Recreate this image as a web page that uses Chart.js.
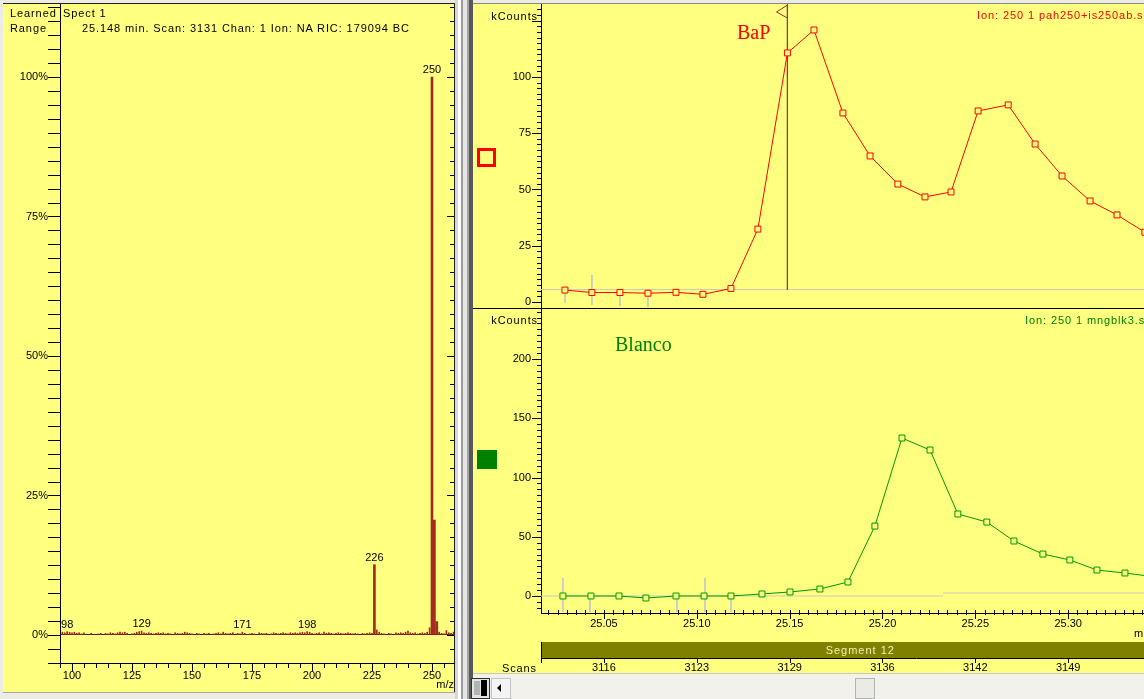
<!DOCTYPE html>
<html>
<head>
<meta charset="utf-8">
<script src="https://cdn.jsdelivr.net/npm/chart.js@4.4.1/dist/chart.umd.min.js"></script>
<style>
  body { margin: 0; width: 1144px; height: 699px; overflow: hidden; position: relative; background: #ecebe4;
         font-family: Arial, "Liberation Sans", sans-serif; font-size: 11px; }
  .abs { position: absolute; }
  .txt { position: absolute; white-space: nowrap; line-height: 12px; letter-spacing: 0.9px; color: #000; }
  .serif { position: absolute; white-space: nowrap; font-family: "Liberation Serif", "Times New Roman", serif; font-size: 20px; line-height: 20px; }
</style>
</head>
<body>
<!-- left panel -->
<div class="abs" style="left:3px;top:3px;width:451px;height:689px;background:#ffff80"></div>
<div class="abs" style="left:3px;top:3px;width:453px;height:1px;background:#222"></div>
<div class="abs" style="left:454px;top:3px;width:1px;height:689px;background:#222"></div>
<div class="abs" style="left:3px;top:692px;width:453px;height:1px;background:#a8a8a8"></div>
<canvas id="spectrum" class="abs" style="left:3px;top:4px" width="453" height="688"></canvas>
<div class="txt" style="left:10px;top:7px">Learned</div>
<div class="txt" style="left:10px;top:22px">Range</div>
<div class="txt" style="left:63px;top:7px">Spect 1</div>
<div class="txt" style="left:82px;top:22px">25.148 min. Scan: 3131 Chan: 1 Ion: NA RIC: 179094 BC</div>

<!-- splitter -->
<div class="abs" style="left:455px;top:0;width:3px;height:699px;background:#d6d6d6"></div>
<div class="abs" style="left:458px;top:0;width:3px;height:699px;background:#ffffff"></div>
<div class="abs" style="left:461px;top:0;width:2px;height:699px;background:#9c9c9c"></div>
<div class="abs" style="left:463px;top:0;width:4px;height:699px;background:#e6e6e6"></div>
<div class="abs" style="left:467px;top:0;width:2px;height:699px;background:#a4a4a4"></div>
<div class="abs" style="left:469px;top:0;width:4px;height:699px;background:#585858"></div>

<!-- right panel -->
<div class="abs" style="left:473px;top:0;width:671px;height:699px;overflow:hidden">
  <div class="abs" style="left:0;top:3px;width:671px;height:670px;background:#ffff80"></div>
  <div class="abs" style="left:0;top:3px;width:671px;height:1px;background:#8a8a8a"></div>
  <canvas id="bap" class="abs" style="left:0;top:4px" width="818" height="304"></canvas>
  <div class="abs" style="left:0;top:308px;width:671px;height:1px;background:#000"></div>
  <canvas id="blank" class="abs" style="left:0;top:309px" width="818" height="364"></canvas>
</div>
<div class="txt" style="left:478px;top:10px;width:60px;text-align:right">kCounts</div>
<div class="txt" style="left:478px;top:314px;width:60px;text-align:right">kCounts</div>
<div class="txt" style="left:977px;top:9px;color:#ff0000">Ion: 250 1 pah250+is250ab.sms</div>
<div class="txt" style="left:1025px;top:314px;color:#008000">Ion: 250 1 mngblk3.sms</div>
<div class="serif" style="left:737px;top:22px;color:#ff0000">BaP</div>
<div class="serif" style="left:615px;top:334px;color:#008000">Blanco</div>
<div class="abs" style="left:477px;top:148px;width:13px;height:13px;border:3px solid #ff0000"></div>
<div class="abs" style="left:477px;top:450px;width:20px;height:19px;background:#008000"></div>
<div class="txt" style="left:1134px;top:627px">min</div>
<div class="txt" style="left:470px;top:662px;width:67px;text-align:right">Scans</div>

<!-- scrollbar -->
<div class="abs" style="left:473px;top:673px;width:671px;height:26px;background:#f2f1ec;border-top:1px solid #c6c6c6"></div>
<div class="abs" style="left:471px;top:678px;width:17px;height:19px;background:#e4e4e4;border:1px solid #303030"></div>
<div class="abs" style="left:474px;top:681px;width:6px;height:14px;background:#b4b4b4"></div>
<div class="abs" style="left:481px;top:680px;width:6px;height:16px;background:#000"></div>
<div class="abs" style="left:491px;top:678px;width:18px;height:19px;background:#f4f4f4;border:1px solid #c4c4c4"></div>
<div class="abs" style="left:497px;top:684px;width:0;height:0;border-top:4px solid transparent;border-bottom:4px solid transparent;border-right:4px solid #000"></div>
<div class="abs" style="left:855px;top:678px;width:18px;height:19px;background:#ebeae4;border:1px solid #b4b4b4"></div>

<script>
// ---- mass spectrum (m/z, % of base peak) ----
const mzMin = 95, mzMax = 259.17;
const peakMz = [226, 250, 251, 252];
const peakInt = [12.6, 100, 20.6, 2.4];
const noiseStart = 96;   // first m/z of noiseInt
const noiseInt = [
  0.5, 0.4, 0.6, 0.5, 0.4, 0.5, 0.3, 0.4, 0.2, 0.4,   // 96-105
  0.0, 0.0, 0.3, 0.0, 0.0, 0.2, 0.3, 0.0, 0.3, 0.2,   // 106-115
  0.4, 0.3, 0.2, 0.4, 0.5, 0.4, 0.5, 0.3, 0.0, 0.2,   // 116-125
  0.3, 0.5, 0.6, 0.7, 0.4, 0.3, 0.4, 0.3, 0.2, 0.3,   // 126-135
  0.4, 0.3, 0.4, 0.2, 0.3, 0.2, 0.0, 0.4, 0.3, 0.2,   // 136-145
  0.3, 0.5, 0.4, 0.3, 0.2, 0.0, 0.3, 0.2, 0.0, 0.3,   // 146-155
  0.2, 0.3, 0.0, 0.2, 0.3, 0.4, 0.2, 0.5, 0.3, 0.2,   // 156-165
  0.3, 0.4, 0.0, 0.3, 0.2, 0.5, 0.3, 0.0, 0.2, 0.3,   // 166-175
  0.2, 0.0, 0.4, 0.3, 0.2, 0.3, 0.0, 0.2, 0.4, 0.3,   // 176-185
  0.2, 0.3, 0.4, 0.3, 0.2, 0.4, 0.3, 0.4, 0.3, 0.4,   // 186-195
  0.5, 0.4, 0.6, 0.5, 0.3, 0.2, 0.3, 0.4, 0.2, 0.5,   // 196-205
  0.3, 0.4, 0.3, 0.2, 0.3, 0.4, 0.3, 0.2, 0.3, 0.4,   // 206-215
  0.3, 0.2, 0.3, 0.2, 0.0, 0.3, 0.2, 0.3, 0.4, 0.3,   // 216-225
  0.0, 0.9, 0.5, 0.3, 0.2, 0.0, 0.3, 0.2, 0.0, 0.4,   // 226-235
  0.3, 0.4, 0.3, 0.5, 0.7, 0.4, 0.3, 0.4, 0.2, 0.3,   // 236-245
  0.4, 0.3, 0.5, 1.3, 0.0, 0.0, 0.0, 0.5, 0.3, 0.2,   // 246-255
  0.8, 0.4, 0.3, 0.5                                  // 256-259
];
const labelledMz = [98, 129, 171, 198, 226, 250];

// ---- chromatograms (minutes, kCounts) ----
const timeMin = 25.0161, timeMax = 25.42;
const bapTime = [25.0290, 25.0435, 25.0586, 25.0737, 25.0888, 25.1033, 25.1184, 25.1329, 25.1488, 25.1631, 25.1787,
                 25.1933, 25.2083, 25.2229, 25.2369, 25.2515, 25.2677, 25.2822, 25.2967, 25.3118, 25.3263, 25.3413];
const bapCounts = [5.3, 4.2, 4.2, 3.9, 4.3, 3.4, 6.0, 32.4, 110.7, 120.9, 84.0,
                   64.9, 52.4, 46.7, 48.9, 84.9, 87.6, 70.2, 56.0, 44.9, 38.7, 31.0];
const bapBaseline = 5.5;
const bapMarkTime = [25.0290, 25.0435, 25.0586, 25.0737];
const bapMarkTop = [5.3, 12.0, 5.8, 4.0];
const bapMarkBottom = [-0.4, -1.3, -1.8, -2.2];
const cursorTime = 25.1488;

const blankTime = [25.0279, 25.0430, 25.0581, 25.0726, 25.0888, 25.1039, 25.1184, 25.1351, 25.1502, 25.1663, 25.1814,
                   25.1959, 25.2105, 25.2256, 25.2406, 25.2562, 25.2708, 25.2864, 25.3009, 25.3155, 25.3306, 25.3456];
const blankCounts = [0, 0, 0, -1.7, 0, 0, 0, 1.7, 3.4, 5.9, 11.8,
                     59.0, 133.3, 123.2, 69.2, 62.4, 46.4, 35.4, 30.4, 21.9, 19.4, 16.4];
const blankBaseTime = [25.0161, 25.2326, 25.2326, 25.42];
const blankBaseVal = [0, 0, 2.5, 2.5];
const blankMarkTime = [25.0279, 25.0425, 25.0893, 25.1044, 25.1184];
const blankMarkTop = [15.2, 0, 0, 15.2, 0];
const blankMarkBottom = [-13.5, -13.5, -13.5, -13.5, -13.5];

const scanTimes = [25.05, 25.10, 25.15, 25.20, 25.25, 25.30, 25.35, 25.40];
const scanLabels = ['3116', '3123', '3129', '3136', '3142', '3149', '3156', '3163'];
const segments = [{ name: 'Segment 12', start: 25.0161, end: 25.36 }];

Chart.defaults.font.family = 'Arial, "Liberation Sans", sans-serif';
Chart.defaults.font.size = 11;
Chart.defaults.color = '#000';

function onStep(v, step) { const r = v / step; return Math.abs(r - Math.round(r)) < 1e-6; }

// fixed axis boxes, no extra label padding
const fixY = w => s => { s.width = w; s.paddingTop = 0; s.paddingBottom = 0; };
const fixX = h => s => { s.height = h; s.paddingLeft = 0; s.paddingRight = 0; };

// instrument style tick marks drawn from the scale's own ticks
function tickMarks(specs) {
  return {
    id: 'tickMarks',
    afterDraw(chart) {
      const ctx = chart.ctx, a = chart.chartArea;
      ctx.save();
      ctx.strokeStyle = '#000';
      ctx.lineWidth = 1;
      ctx.beginPath();
      Object.keys(specs).forEach(id => {
        const s = chart.scales[id];
        specs[id].forEach(m => {
          const base = Math.round({ left: a.left, right: a.right, bottom: a.bottom, scaleTop: s.top }[m.edge]);
          s.ticks.forEach(t => {
            const len = m.every && !onStep(t.value, m.every) ? m.minor : m.major;
            const p = Math.round(s.getPixelForValue(t.value)) + 0.5;
            if (s.isHorizontal()) { ctx.moveTo(p, base + len[0]); ctx.lineTo(p, base + len[1]); }
            else { ctx.moveTo(base + len[0], p); ctx.lineTo(base + len[1], p); }
          });
        });
      });
      ctx.stroke();
      ctx.restore();
    }
  };
}

const xy = (xs, ys) => xs.map((x, i) => ({ x: x, y: ys[i] }));
function marksData(t, top, bottom) {
  const out = [];
  t.forEach((x, i) => { out.push({ x: x, y: top[i] }, { x: x, y: bottom[i] }, { x: x, y: NaN }); });
  return out;
}
function stepData(t, v) {
  const out = [];
  for (let i = 0; i < t.length; i += 2) out.push({ x: t[i], y: v[i] }, { x: t[i + 1], y: v[i + 1] }, { x: t[i + 1], y: NaN });
  return out;
}

// ---- spectrum ----
const noisePts = noiseInt.map((v, i) => ({ x: noiseStart + i, y: v })).filter(p => p.y > 0);
const intensityAt = m => { const i = peakMz.indexOf(m); return i >= 0 ? peakInt[i] : noiseInt[m - noiseStart]; };

const peakLabels = {
  id: 'peakLabels',
  afterDatasetsDraw(chart) {
    const { ctx, scales: { x, y } } = chart;
    ctx.save();
    ctx.font = '11px Arial, "Liberation Sans", sans-serif';
    ctx.fillStyle = '#000';
    ctx.textAlign = 'center';
    ctx.textBaseline = 'alphabetic';
    labelledMz.forEach(m => ctx.fillText(String(m), x.getPixelForValue(m), y.getPixelForValue(intensityAt(m)) - 4));
    ctx.restore();
  }
};

new Chart(document.getElementById('spectrum'), {
  type: 'bar',
  data: {
    datasets: [
      { data: xy(peakMz, peakInt), backgroundColor: '#a3291f', barThickness: 2, grouped: false },
      { data: noisePts, backgroundColor: '#a3291f', barThickness: 1, grouped: false }
    ]
  },
  options: {
    responsive: false, animation: false, devicePixelRatio: 1,
    layout: { autoPadding: false, padding: { left: 0, right: 2, top: 0, bottom: 0 } },
    plugins: { legend: { display: false }, tooltip: { enabled: false } },
    scales: {
      x: {
        type: 'linear', offset: false, min: mzMin, max: mzMax,
        ticks: { stepSize: 5, includeBounds: false, autoSkip: false, maxRotation: 0, padding: 6,
                 callback: v => onStep(v, 25) ? String(v) : '' },
        grid: { drawOnChartArea: false, drawTicks: false },
        border: { color: '#000' },
        title: { display: true, text: 'm/z', align: 'end', padding: 0 },
        afterFit: fixX(29)
      },
      y: {
        min: -5.02, max: 113.08,
        ticks: { stepSize: 2.5, includeBounds: false, autoSkip: false, padding: 12,
                 callback: v => onStep(v, 25) && v >= 0 && v <= 100 ? v + '%' : '' },
        grid: { drawTicks: false, color: c => (c.tick && c.tick.value === 0) ? '#4a1a14' : 'transparent' },
        border: { color: '#000' },
        afterFit: fixY(57)
      }
    }
  },
  plugins: [peakLabels, tickMarks({
    x: [{ edge: 'bottom', minor: [0, 5], major: [0, 8], every: 25 }],
    y: [{ edge: 'left', minor: [-12, 0], major: [-12, 0] },
        { edge: 'right', minor: [-4, 0], major: [-7, 0], every: 25 }]
  })]
});

// ---- BaP chromatogram ----
const cursorFlag = {
  id: 'cursorFlag',
  afterDraw(chart) {
    const { ctx, chartArea: a, scales: { x } } = chart;
    const px = Math.round(x.getPixelForValue(cursorTime)) + 0.5;
    ctx.save();
    ctx.strokeStyle = '#993322';
    ctx.beginPath();
    ctx.moveTo(px, a.top + 1);
    ctx.lineTo(px - 11, a.top + 8);
    ctx.lineTo(px, a.top + 14);
    ctx.stroke();
    ctx.restore();
  }
};

const grey = '#c8c8c8';
new Chart(document.getElementById('bap'), {
  type: 'line',
  data: {
    datasets: [
      { data: xy(bapTime, bapCounts), borderColor: '#ff0000', borderWidth: 1, tension: 0,
        pointStyle: 'rect', pointRadius: 4.2, pointBorderWidth: 1, pointBorderColor: '#ff0000', pointBackgroundColor: '#ffff80' },
      { data: [{ x: cursorTime, y: 132.44 }, { x: cursorTime, y: bapBaseline }], borderColor: '#993322', borderWidth: 1, pointRadius: 0 },
      { data: marksData(bapMarkTime, bapMarkTop, bapMarkBottom), borderColor: grey, borderWidth: 1, pointRadius: 0, spanGaps: false },
      { data: [{ x: timeMin, y: bapBaseline }, { x: timeMax, y: bapBaseline }], borderColor: grey, borderWidth: 1, pointRadius: 0 }
    ]
  },
  options: {
    responsive: false, animation: false, devicePixelRatio: 1,
    layout: { autoPadding: false, padding: 0 },
    plugins: { legend: { display: false }, tooltip: { enabled: false } },
    scales: {
      x: { type: 'linear', min: timeMin, max: timeMax, display: false },
      y: {
        min: -2.67, max: 132.44,
        ticks: { stepSize: 2.5, includeBounds: false, autoSkip: false, padding: 10,
                 callback: v => onStep(v, 25) && v <= 100 ? String(v) : '' },
        grid: { drawOnChartArea: false, drawTicks: false },
        border: { color: '#000' },
        afterFit: fixY(68)
      }
    }
  },
  plugins: [cursorFlag, tickMarks({ y: [{ edge: 'left', minor: [-4, 0], major: [-9, 0], every: 25 }] })]
});

// ---- Blanco chromatogram ----
const segmentBar = {
  id: 'segmentBar',
  afterDraw(chart) {
    const { ctx, chartArea: a, scales: { x, xs } } = chart;
    const top = Math.round(xs.top) - 16;
    ctx.save();
    segments.forEach(sg => {
      const l = x.getPixelForValue(sg.start), r = x.getPixelForValue(sg.end);
      ctx.fillStyle = '#808000';
      ctx.fillRect(l, top, r - l, 16);
      ctx.fillStyle = '#f2f2b0';
      ctx.font = '11px Arial, "Liberation Sans", sans-serif';
      ctx.letterSpacing = '1px';
      ctx.textAlign = 'center';
      ctx.textBaseline = 'middle';
      ctx.fillText(sg.name, (l + r) / 2, top + 8.5);
    });
    ctx.strokeStyle = '#000';
    ctx.beginPath();
    ctx.moveTo(Math.round(a.left) + 0.5, top);
    ctx.lineTo(Math.round(a.left) + 0.5, Math.round(xs.top) + 5);
    ctx.stroke();
    ctx.restore();
  }
};

new Chart(document.getElementById('blank'), {
  type: 'line',
  data: {
    datasets: [
      { data: xy(blankTime, blankCounts), borderColor: '#009900', borderWidth: 1, tension: 0,
        pointStyle: 'rect', pointRadius: 4.2, pointBorderWidth: 1, pointBorderColor: '#009900', pointBackgroundColor: '#ffff80' },
      { data: marksData(blankMarkTime, blankMarkTop, blankMarkBottom), borderColor: grey, borderWidth: 1, pointRadius: 0, spanGaps: false },
      { data: stepData(blankBaseTime, blankBaseVal), borderColor: grey, borderWidth: 1, pointRadius: 0, spanGaps: false }
    ]
  },
  options: {
    responsive: false, animation: false, devicePixelRatio: 1,
    layout: { autoPadding: false, padding: 0 },
    plugins: { legend: { display: false }, tooltip: { enabled: false } },
    scales: {
      x: {
        type: 'linear', position: 'bottom', weight: 0, min: timeMin, max: timeMax,
        ticks: { stepSize: 0.005, includeBounds: false, autoSkip: false, maxRotation: 0, padding: 4,
                 callback: v => onStep(v, 0.05) ? v.toFixed(2) : '' },
        grid: { drawOnChartArea: false, drawTicks: false },
        border: { color: '#000' },
        afterFit: fixX(45)
      },
      xs: {
        type: 'linear', position: 'bottom', weight: 1, min: timeMin, max: timeMax,
        ticks: { stepSize: 0.05, includeBounds: false, autoSkip: false, maxRotation: 0, padding: 3,
                 callback: v => { const i = scanTimes.findIndex(t => Math.abs(t - v) < 1e-6); return i >= 0 ? scanLabels[i] : ''; } },
        grid: { drawOnChartArea: false, drawTicks: false },
        border: { color: '#000' },
        afterFit: fixX(15)
      },
      y: {
        min: -14.35, max: 242.2,
        ticks: { stepSize: 5, includeBounds: false, autoSkip: false, padding: 10,
                 callback: v => onStep(v, 50) && v >= 0 ? String(v) : '' },
        grid: { drawOnChartArea: false, drawTicks: false },
        border: { color: '#000' },
        afterFit: fixY(68)
      }
    }
  },
  plugins: [segmentBar, tickMarks({
    x: [{ edge: 'bottom', minor: [-3, 2], major: [-3, 6], every: 0.05 }],
    xs: [{ edge: 'scaleTop', minor: [0, 5], major: [0, 5] }],
    y: [{ edge: 'left', minor: [-4, 0], major: [-9, 0], every: 50 }]
  })]
});
</script>
</body>
</html>
